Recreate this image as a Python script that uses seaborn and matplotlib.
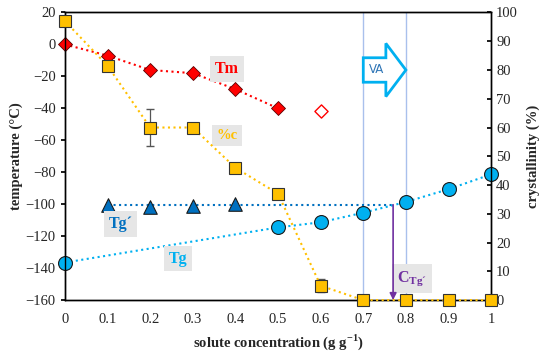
import matplotlib
matplotlib.use("Agg")
import matplotlib.pyplot as plt
import seaborn as sns
import pandas as pd
from matplotlib.patches import FancyArrow

sns.set_theme(style="white")
plt.rcParams['font.family'] = ['Liberation Serif', 'DejaVu Serif']
plt.rcParams['axes.unicode_minus'] = True

# data
conc_tm = [0.0, 0.1, 0.2, 0.3, 0.4, 0.5]
tm = [0, -7, -16, -18, -28, -40]
conc_tm_open = [0.6]
tm_open = [-41.5]

conc_c = [0.0, 0.1, 0.2, 0.3, 0.4, 0.5, 0.6, 0.7, 0.8, 0.9, 1.0]
cryst = [97, 81.5, 60, 60, 46, 37, 5, 0, 0, 0, 0]
cryst_err = [0, 0, 6.5, 0, 0, 0, 2.2, 0, 0, 0, 0]

conc_tgp = [0.1, 0.2, 0.3, 0.4]
tgp = [-100.2, -101.5, -101.2, -100]
tgp_line_x = [0.1, 0.77]
tgp_line_y = [-100.3, -100.3]

conc_tg = [0.0, 0.5, 0.6, 0.7, 0.8, 0.9, 1.0]
tg = [-136.5, -114.5, -111.3, -105.3, -98.6, -90.6, -81.3]

va_lines = [0.7, 0.8]
c_tg = 0.77

red = "#ff0000"
orange = "#ffc000"
dblue = "#0070c0"
cyan = "#00b0f0"
purple = "#7030a0"

fig = plt.figure(figsize=(5.5, 3.56), dpi=100)
ax = fig.add_axes([0.118, 0.157, 0.775, 0.808])
ax2 = ax.twinx()

for v in va_lines:
    ax.axvline(v, color="#a9c0ec", lw=1.0, zorder=1)

# Tg' horizontal and Tg lines
ax.plot(tgp_line_x, tgp_line_y, ls=":", color=dblue, lw=1.5, zorder=2)
sns.lineplot(x=conc_tg, y=tg, ax=ax, color=cyan, ls=":", lw=1.5, marker="o",
             markersize=10, markeredgecolor="#1a1a1a", markeredgewidth=0.8,
             zorder=3, clip_on=False)
sns.scatterplot(x=conc_tgp, y=tgp, ax=ax, color=dblue, marker="^", s=95,
                edgecolor="#1a1a1a", linewidth=0.8, zorder=4, clip_on=False)
sns.lineplot(x=conc_tm, y=tm, ax=ax, color=red, ls=":", lw=1.5, marker="D",
             markersize=7.5, markeredgecolor="#5a0000", markeredgewidth=0.6,
             zorder=4, clip_on=False)
sns.scatterplot(x=conc_tm_open, y=tm_open, ax=ax, marker="D", s=45, facecolor="white",
                edgecolor=red, linewidth=1.0, zorder=4)

# labels in gray boxes
box = dict(boxstyle="square,pad=0.3", facecolor="#e6e6e6", edgecolor="none")
ax.text(0.38, -15.5, "Tm", color=red, fontsize=11.5, fontweight="bold", ha="center",
        va="center", bbox=box, zorder=6)
ax.text(0.38, -57, "%c", color=orange, fontsize=10.5, fontweight="bold", ha="center",
        va="center", bbox=box, zorder=6)
ax.text(0.13, -112.5, "Tg\u00b4", color=dblue, fontsize=11.5, fontweight="bold", ha="center",
        va="center", bbox=box, zorder=6)
ax.text(0.265, -134, "Tg", color=cyan, fontsize=11.5, fontweight="bold", ha="center",
        va="center", bbox=box, zorder=6)
ax.text(0.815, -146.5, "C$_{\\mathregular{Tg\u00b4}}$", color=purple, fontsize=11.5,
        fontweight="bold", ha="center", va="center", bbox=box, zorder=6)

# purple arrow to C_Tg'
ax.annotate("", xy=(c_tg, -160), xytext=(c_tg, tgp_line_y[0]),
            arrowprops=dict(arrowstyle="-|>", color=purple, lw=1.2, mutation_scale=10,
                            shrinkA=0, shrinkB=0),
            zorder=7)

# crystallinity on secondary axis
ax2.errorbar(conc_c, cryst, yerr=cryst_err, fmt="none", ecolor="#555555",
             elinewidth=0.9, capsize=3, zorder=3)
sns.lineplot(x=conc_c, y=cryst, ax=ax2, color=orange, ls=":", lw=1.5, marker="s",
             markersize=9, markeredgecolor="#333333", markeredgewidth=0.8,
             zorder=4, clip_on=False)

# VA arrow
ax2.add_patch(FancyArrow(0.7, 80, 0.1, 0, width=8.5, head_width=18.5, head_length=0.047,
                         length_includes_head=True, facecolor="white", edgecolor=cyan,
                         lw=2.0, zorder=6))
ax2.text(0.73, 80, "VA", color="#2e75b6", fontsize=8.5, family="DejaVu Sans",
         ha="center", va="center", zorder=7)

ax.set_xlim(0, 1)
ax.set_ylim(-160, 20)
ax2.set_ylim(0, 100)
ax.set_xticks([0, 0.1, 0.2, 0.3, 0.4, 0.5, 0.6, 0.7, 0.8, 0.9, 1])
ax.set_xticklabels(["0", "0.1", "0.2", "0.3", "0.4", "0.5", "0.6", "0.7", "0.8", "0.9", "1"])
ax.set_yticks(range(-160, 21, 20))
ax2.set_yticks(range(0, 101, 10))

ax.set_xlabel("solute concentration (g g$^{\\mathregular{-1}}$)", fontsize=10.5,
              fontweight="bold", labelpad=5)
ax.set_ylabel("temperature (°C)", fontsize=10.5, fontweight="bold", labelpad=2)
ax2.set_ylabel("crystallinity (%)", fontsize=10.5, fontweight="bold", labelpad=6)

ax.tick_params(axis="x", direction="in", length=3, color="black", labelsize=10.5, pad=9)
ax.tick_params(axis="y", direction="out", length=3, color="black", labelsize=10.5, left=True)
ax2.tick_params(axis="y", direction="in", length=3, color="black", labelsize=10.5, right=True)
for a in (ax, ax2):
    for s in a.spines.values():
        s.set_color("black")
        s.set_linewidth(1.0)

fig.savefig("out.png", dpi=100)
